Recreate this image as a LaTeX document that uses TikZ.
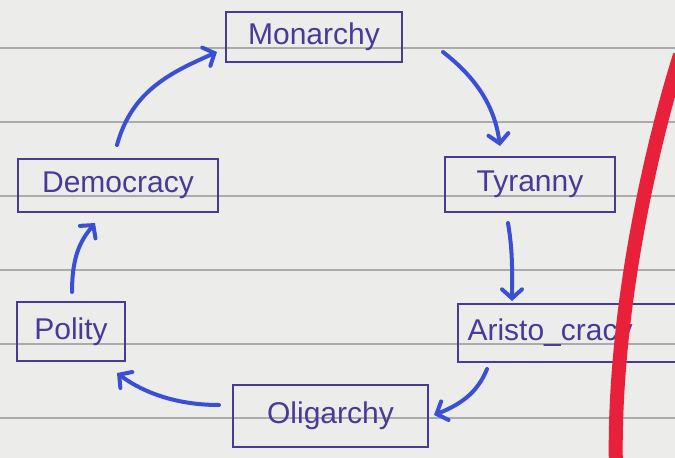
\documentclass[tikz,border=0pt]{standalone}
\usepackage{fontspec}
\setmainfont{Liberation Sans}
\usetikzlibrary{arrows.meta}
\definecolor{paper}{HTML}{ECECEA}
\definecolor{rule}{HTML}{ABABAB}
\definecolor{ink}{HTML}{4A3A96}
\definecolor{pen}{HTML}{3A4FD4}
\definecolor{marker}{HTML}{E8203A}
\begin{document}
\begin{tikzpicture}[x=1pt,y=-1pt,
  box/.style={draw=ink, line width=2pt, text=ink, font=\fontsize{30}{32}\selectfont, inner sep=0pt},
  flow/.style={draw=pen, line width=4pt, line cap=round, -{Straight Barb[length=9pt,width=20pt,line cap=round]}}]
\fill[paper] (0,0) rectangle (675,458);
\useasboundingbox (0,0) rectangle (675,458);
\clip (0,0) rectangle (675,458);
\foreach \yy in {48,122,196,270,344,418}
  \draw[rule, line width=2.2pt] (0,\yy) -- (675,\yy);
% boxes
\node[box, minimum width=176pt, minimum height=50pt] (mon) at (314,37) {Monarchy};
\node[box, minimum width=170pt, minimum height=55pt] (tyr) at (530,184.5) {Tyranny};
\node[box, text width=207pt, inner xsep=10pt, align=left, minimum height=58pt] (ari) at (571,333) {Aristo\_cracy};
\node[box, minimum width=195pt, minimum height=62pt] (oli) at (330.5,416) {Oligarchy};
\node[box, minimum width=200pt, minimum height=53pt] (dem) at (118,185.5) {Democracy};
\node[box, minimum width=108pt, minimum height=59pt] (pol) at (71,331.5) {Polity};
% arrows
\draw[flow] ([shift={(40,15)}]mon.east) .. controls +(36,28) and +(-5,-37) .. ([shift={(-30,-10)}]tyr.north);
\draw[flow] ([shift={(-22,10)}]tyr.south) .. controls +(5,30) and +(0,-30) .. ([shift={(-59,-2)}]ari.north);
\draw[flow] ([shift={(-84,6)}]ari.south) .. controls +(-10,25) and +(25,-10) .. ([shift={(5,-1)}]oli.east);
\draw[flow] ([shift={(-13,-11)}]oli.west) .. controls +(-50,0) and +(20,15) .. ([shift={(-9,11)}]pol.south east);
\draw[flow] ([shift={(1,-9)}]pol.north) .. controls +(0,-40) and +(-12,15) .. ([shift={(-23,10)}]dem.south);
\draw[flow] ([shift={(-1,-13)}]dem.north) .. controls +(15,-55) and +(-45,20) .. ([shift={(-8,15)}]mon.west);
% red marker stroke
\draw[marker, line width=14pt] (680,55) .. controls (650,150) and (612,320) .. (616,470);
\end{tikzpicture}
\end{document}
